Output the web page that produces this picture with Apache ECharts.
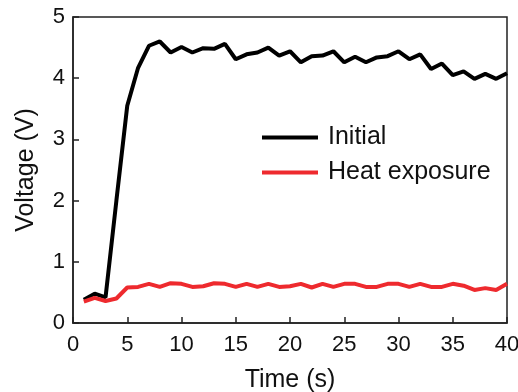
<!DOCTYPE html>
<html>
<head>
<meta charset="utf-8">
<script src="https://cdn.jsdelivr.net/npm/echarts@6/dist/echarts.min.js"></script>
<style>
  html, body { margin: 0; padding: 0; background: #fff; }
  #main { width: 518px; height: 392px; }
</style>
</head>
<body>
<div id="main"></div>
<script>
// time in seconds
const time = [1,2,3,4,5,6,7,8,9,10,11,12,13,14,15,16,17,18,19,20,
  21,22,23,24,25,26,27,28,29,30,31,32,33,34,35,36,37,38,39,40]
// voltage, initial
const initial = [0.38,0.48,0.42,2.0,3.55,4.17,4.53,4.60,4.42,4.51,4.42,4.49,4.48,4.56,4.31,4.39,4.42,4.50,4.37,4.44,
  4.26,4.36,4.37,4.44,4.26,4.35,4.26,4.34,4.36,4.44,4.31,4.39,4.15,4.24,4.05,4.11,3.99,4.07,3.99,4.08]
// voltage, after heat exposure
const heat = [0.35,0.41,0.36,0.40,0.58,0.59,0.64,0.59,0.65,0.64,0.59,0.60,0.65,0.64,0.59,0.64,0.59,0.64,0.59,0.60,
  0.64,0.58,0.64,0.59,0.64,0.64,0.59,0.59,0.64,0.64,0.59,0.64,0.59,0.59,0.64,0.61,0.54,0.57,0.54,0.64]
const seriesNames = ['Initial', 'Heat exposure']

const pairs = (ys) => time.map((t, i) => [t, ys[i]])
const font = 'Arial, "Liberation Sans", sans-serif'

let myChart = echarts.init(document.getElementById('main'))
myChart.setOption({
  animation: false,
  grid: { left: 73, right: 11, top: 17, bottom: 69, outerBoundsMode: 'none', containLabel: false,
    show: true, borderColor: '#222', borderWidth: 1.5 },
  legend: {
    data: seriesNames,
    orient: 'vertical',
    left: 257, top: 120,
    itemWidth: 56, itemHeight: 4, itemGap: 10,
    icon: 'rect',
    textStyle: { fontSize: 25, color: '#111', fontFamily: font, padding: [0, 0, 0, 5] }
  },
  xAxis: {
    type: 'value', min: 0, max: 40, interval: 5,
    name: 'Time (s)', nameLocation: 'middle', nameGap: 45,
    nameTextStyle: { fontSize: 25, color: '#111', fontFamily: font },
    axisLine: { lineStyle: { color: '#222', width: 1.5 } },
    axisTick: { inside: true, length: 6, lineStyle: { color: '#222', width: 1.5 } },
    axisLabel: { fontSize: 22, color: '#111', fontFamily: font, margin: 11 },
    splitLine: { show: false }
  },
  yAxis: {
    type: 'value', min: 0, max: 5, interval: 1,
    name: 'Voltage (V)', nameLocation: 'middle', nameGap: 34,
    nameTextStyle: { fontSize: 25, color: '#111', fontFamily: font },
    axisLine: { show: true, lineStyle: { color: '#222', width: 1.5 } },
    axisTick: { show: true, inside: true, length: 6, lineStyle: { color: '#222', width: 1.5 } },
    axisLabel: { fontSize: 22, color: '#111', fontFamily: font, margin: 8 },
    splitLine: { show: false }
  },
  series: [
    { name: seriesNames[0], type: 'line', data: pairs(initial), symbol: 'none',
      lineStyle: { color: '#000', width: 4 }, itemStyle: { color: '#000' } },
    { name: seriesNames[1], type: 'line', data: pairs(heat), symbol: 'none',
      lineStyle: { color: '#ee2a2e', width: 4 }, itemStyle: { color: '#ee2a2e' } }
  ]
})
</script>
</body>
</html>
